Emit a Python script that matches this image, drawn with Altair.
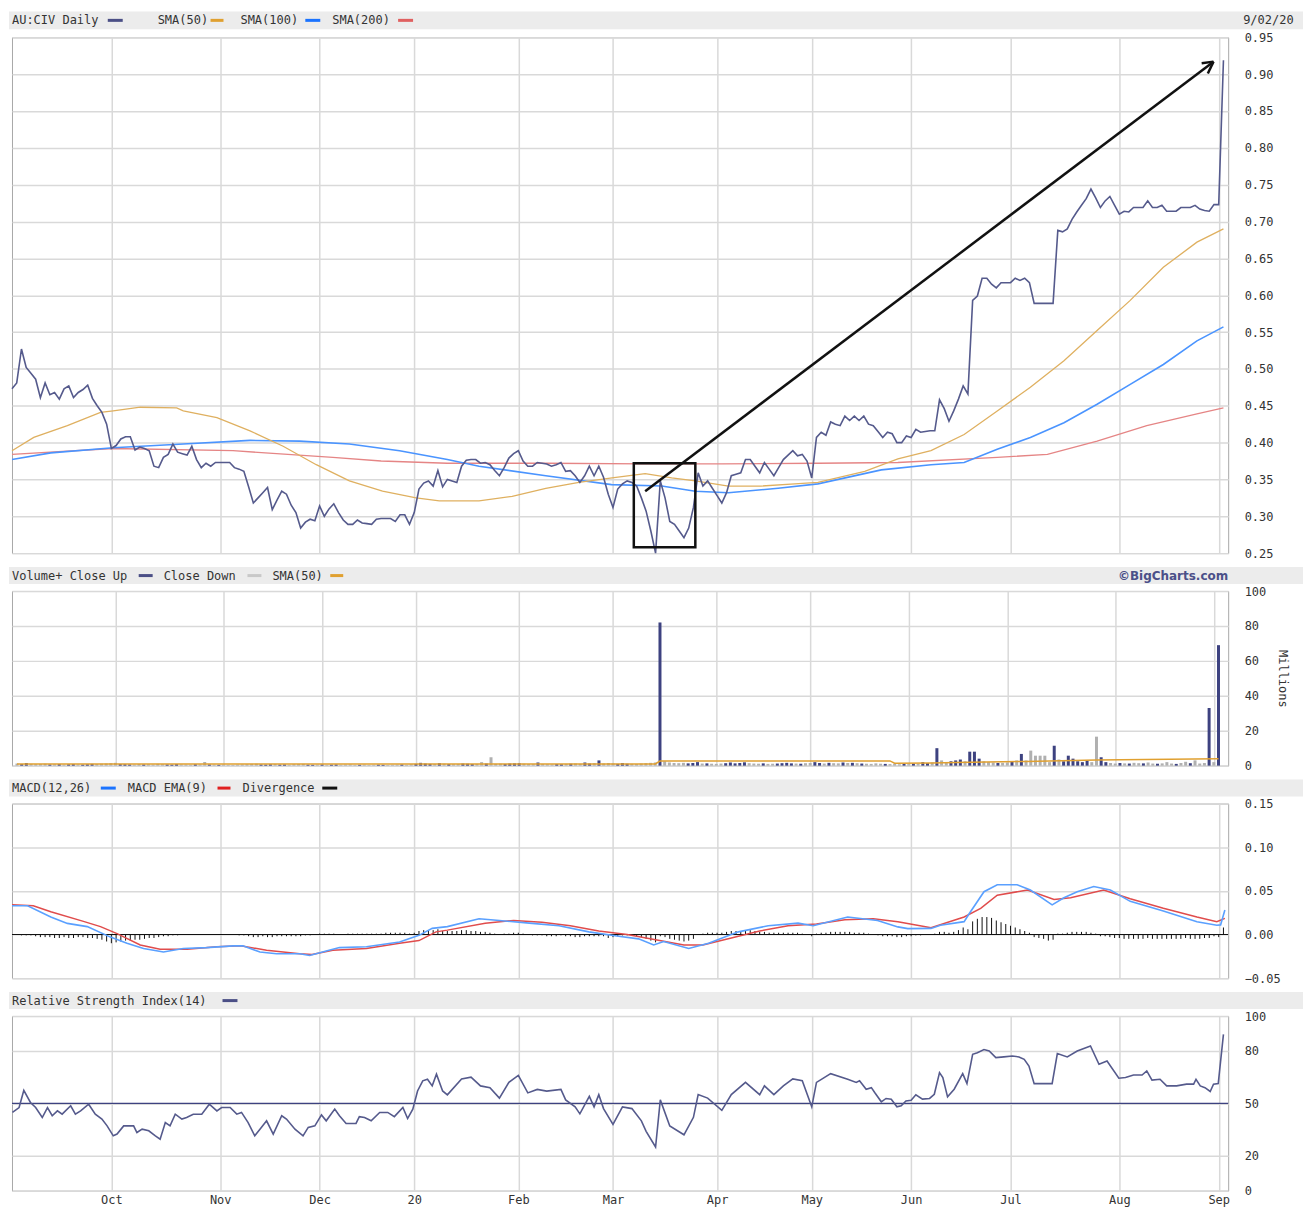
import altair as alt
import pandas as pd

# ---------------- data ----------------
MONTH_IDX = [21, 44, 65, 85, 107, 127, 149, 169, 190, 211, 234, 255]
MONTH_LABELS = ["Oct", "Nov", "Dec", "20", "Feb", "Mar", "Apr", "May", "Jun", "Jul", "Aug", "Sep"]
LAST_DATE = "9/02/20"

# daily closes, trading-day index 0 (2 Sep 2019) .. 256 (2 Sep 2020)
PRICE = [
    0.473, 0.481, 0.527, 0.502, 0.494, 0.486, 0.461, 0.481, 0.465, 0.468,
    0.459, 0.473, 0.477, 0.461, 0.468, 0.472, 0.478, 0.460, 0.450, 0.441,
    0.425, 0.392, 0.396, 0.405, 0.408, 0.408, 0.390, 0.394, 0.392, 0.389,
    0.368, 0.366, 0.380, 0.384, 0.398, 0.387, 0.385, 0.383, 0.395, 0.377,
    0.366, 0.372, 0.368, 0.373, 0.373, 0.373, 0.373, 0.366, 0.364, 0.361,
    0.340, 0.318, 0.325, 0.332, 0.339, 0.309, 0.322, 0.334, 0.330, 0.315,
    0.305, 0.284, 0.292, 0.296, 0.294, 0.314, 0.300, 0.310, 0.317, 0.305,
    0.295, 0.289, 0.289, 0.295, 0.291, 0.290, 0.289, 0.296, 0.297, 0.297,
    0.297, 0.293, 0.302, 0.302, 0.289, 0.305, 0.337, 0.345, 0.348, 0.341,
    0.362, 0.340, 0.350, 0.348, 0.346, 0.368, 0.376, 0.377, 0.377, 0.372,
    0.373, 0.370, 0.362, 0.355, 0.366, 0.379, 0.385, 0.389, 0.375, 0.368,
    0.368, 0.373, 0.372, 0.371, 0.368, 0.370, 0.373, 0.361, 0.362, 0.355,
    0.346, 0.355, 0.368, 0.355, 0.368, 0.353, 0.330, 0.312, 0.337, 0.344,
    0.348, 0.346, 0.341, 0.325, 0.307, 0.280, 0.250, 0.348, 0.325, 0.293,
    0.289, 0.280, 0.271, 0.284, 0.312, 0.359, 0.341, 0.348, 0.338, 0.328,
    0.318, 0.332, 0.355, 0.357, 0.359, 0.377, 0.377, 0.368, 0.359, 0.373,
    0.364, 0.355, 0.366, 0.377, 0.383, 0.389, 0.382, 0.384, 0.375, 0.352,
    0.407, 0.414, 0.410, 0.428, 0.425, 0.423, 0.436, 0.430, 0.436, 0.430,
    0.436, 0.425, 0.423, 0.415, 0.407, 0.414, 0.412, 0.400, 0.400, 0.409,
    0.407, 0.418, 0.414, 0.415, 0.416, 0.416, 0.458, 0.446, 0.429, 0.443,
    0.459, 0.477, 0.466, 0.593, 0.599, 0.623, 0.623, 0.615, 0.610, 0.617,
    0.617, 0.617, 0.623, 0.620, 0.623, 0.617, 0.589, 0.589, 0.589, 0.589,
    0.589, 0.688, 0.686, 0.690, 0.703, 0.713, 0.722, 0.731, 0.744, 0.732,
    0.719, 0.728, 0.734, 0.722, 0.710, 0.714, 0.713, 0.719, 0.719, 0.719,
    0.728, 0.719, 0.719, 0.722, 0.714, 0.714, 0.714, 0.719, 0.719, 0.719,
    0.722, 0.717, 0.715, 0.714, 0.723, 0.723, 0.919,
]

SMA50_IDX = [0, 4.6, 11.7, 18.7, 21.4, 27.1, 34.8, 36.2, 43.3, 50.3,
             57.3, 64.3, 71.3, 78.3, 85.4, 90.3, 98.7, 105.7, 112.8, 119.8,
             126.8, 133.8, 139.4, 144.4, 151.4, 158.3, 165.4, 170.3, 180.2, 187.2,
             194.2, 201.2, 208.2, 215.2, 222.3, 229.3, 236.3, 243.3, 250.4, 256]
SMA50_VAL = [0.389, 0.407, 0.423, 0.441, 0.443, 0.448, 0.447, 0.443, 0.434, 0.416,
             0.395, 0.370, 0.348, 0.334, 0.325, 0.321, 0.321, 0.327, 0.338, 0.346,
             0.352, 0.358, 0.352, 0.348, 0.341, 0.341, 0.344, 0.346, 0.361, 0.378,
             0.389, 0.411, 0.443, 0.475, 0.511, 0.552, 0.593, 0.638, 0.672, 0.690]

SMA100_IDX = [0, 8.2, 21.4, 36.2, 50.3, 60.8, 71.3, 81.9, 92, 98.7,
              112.8, 126.7, 137.3, 144.4, 151.4, 161.9, 170.3, 183.7, 194.2, 201.2,
              208.2, 215.2, 222.3, 229.3, 236.3, 243.3, 250.4, 256]
SMA100_VAL = [0.377, 0.386, 0.393, 0.398, 0.403, 0.402, 0.398, 0.389, 0.377, 0.368,
              0.355, 0.343, 0.341, 0.334, 0.332, 0.338, 0.344, 0.363, 0.370, 0.373,
              0.391, 0.407, 0.427, 0.452, 0.479, 0.506, 0.538, 0.557]

SMA200_IDX = [0, 21.4, 46.7, 67.8, 78, 92, 112.8, 133.8, 150, 170.3, 187.2,
              208.2, 218.8, 229.3, 239.8, 250.4, 256]
SMA200_VAL = [0.384, 0.392, 0.389, 0.380, 0.375, 0.372, 0.372, 0.371, 0.371, 0.372, 0.373,
              0.380, 0.384, 0.402, 0.423, 0.439, 0.447]

# annotation drawn on the price panel (trading-day index, price)
BOX = {"x0": 131.4, "x1": 144.4, "top": 0.372, "bot": 0.258}
ARROW_FROM = [133.8, 0.334]
ARROW_TO = [253.9, 0.917]
ARROW_HEAD_A = [251.4, 0.9147]
ARROW_HEAD_B = [252.7, 0.901]

# volume, millions
VOLUME = [
    1.2, 0.9, 1.5, 1.0, 0.8, 0.9, 1.1, 0.7, 0.8, 0.9,
    0.6, 0.8, 0.9, 0.7, 0.6, 0.8, 1.0, 0.9, 1.1, 1.2,
    1.4, 1.6, 0.9, 0.8, 0.7, 0.6, 0.9, 0.7, 0.8, 0.6,
    1.0, 0.8, 0.7, 0.6, 0.9, 0.7, 0.6, 0.5, 0.8, 0.7,
    2.1, 0.7, 0.6, 0.5, 0.6, 0.5, 0.4, 0.6, 0.7, 0.8,
    1.0, 1.1, 0.7, 0.6, 0.8, 0.9, 0.6, 0.7, 0.5, 0.8,
    0.9, 1.0, 0.6, 0.5, 0.6, 0.7, 0.5, 0.6, 0.7, 0.5,
    0.6, 0.7, 0.4, 0.5, 0.6, 0.4, 0.5, 0.6, 0.5, 0.4,
    0.5, 0.6, 0.7, 0.5, 0.8, 1.0, 1.6, 1.2, 1.0, 0.9,
    1.4, 1.1, 0.9, 0.8, 0.9, 1.2, 1.1, 0.9, 1.0, 2.0,
    1.2, 4.8, 1.0, 1.1, 0.9, 1.2, 1.3, 1.4, 1.1, 0.9,
    0.8, 1.8, 0.9, 0.8, 0.7, 0.9, 0.8, 1.0, 1.1, 1.2,
    1.0, 1.8, 1.2, 1.4, 3.0, 1.2, 1.5, 1.3, 1.0, 1.5,
    1.1, 1.0, 0.9, 1.2, 1.4, 1.6, 1.8, 82.0, 2.5, 1.8,
    1.5, 1.4, 1.6, 1.3, 1.5, 2.0, 1.2, 1.3, 1.1, 1.0,
    1.2, 1.4, 1.8, 1.3, 1.5, 1.9, 1.4, 1.2, 1.1, 1.3,
    1.0, 1.1, 1.2, 1.4, 1.6, 1.3, 1.2, 1.1, 1.4, 1.5,
    2.0, 1.5, 1.2, 1.6, 1.4, 1.3, 1.8, 1.5, 1.6, 1.4,
    1.2, 1.1, 1.0, 1.3, 1.1, 1.0, 0.9, 1.1, 0.8, 1.0,
    0.9, 1.2, 1.1, 2.0, 1.5, 1.8, 10.0, 3.0, 2.0, 2.5,
    3.0, 3.5, 2.5, 8.0, 8.0, 4.0, 2.5, 2.0, 1.8, 1.5,
    1.6, 1.8, 2.5, 3.0, 6.7, 3.0, 8.6, 5.7, 5.7, 5.7,
    2.0, 11.4, 3.5, 2.5, 5.7, 4.0, 2.5, 2.0, 3.0, 2.0,
    16.6, 4.8, 2.0, 1.5, 1.2, 1.5, 1.3, 1.2, 1.6, 1.4,
    1.3, 1.8, 1.2, 1.1, 1.3, 2.0, 1.2, 1.0, 1.5, 2.2,
    1.4, 3.0, 1.2, 1.5, 33.0, 2.0, 69.0,
]
VOL_SMA_IDX = [0, 136, 137, 186, 187, 195, 200, 215, 230, 256]
VOL_SMA_VAL = [1.0, 1.0, 2.6, 2.7, 1.4, 1.5, 1.8, 2.4, 3.2, 4.0]

MACD_IDX = [0, 3.3, 8.2, 11.7, 15.9, 20.8, 24.3, 27.8, 32, 36.2,
            41.1, 46.8, 48.8, 52.4, 55.9, 60.8, 62.9, 66.4, 69.2, 74.9,
            81.9, 86, 88.8, 92, 98.7, 103, 109.3, 115.6, 121.9, 128.2,
            132.4, 135.6, 137.7, 143, 147.2, 153.5, 159.8, 166.1, 169.3, 176.6,
            182.9, 187.2, 189.3, 194.2, 196.2, 201.2, 202.3, 205.4, 208.2, 212.4,
            215.2, 219.8, 222.3, 225.1, 228.6, 232.1, 236.3, 243.3, 250.4, 254.6,
            255.4, 256.3]
MACD_VAL = [0.033, 0.033, 0.020, 0.0127, 0.009, -0.003, -0.010, -0.016, -0.020, -0.016,
            -0.015, -0.013, -0.013, -0.020, -0.022, -0.022, -0.024, -0.019, -0.015, -0.014,
            -0.0085, -0.001, 0.007, 0.009, 0.018, 0.016, 0.013, 0.010, 0.003, -0.002,
            -0.005, -0.012, -0.008, -0.016, -0.010, 0.003, 0.010, 0.013, 0.010, 0.020,
            0.016, 0.0087, 0.0067, 0.007, 0.0106, 0.0147, 0.024, 0.049, 0.057, 0.057,
            0.051, 0.034, 0.042, 0.049, 0.055, 0.051, 0.038, 0.027, 0.0147, 0.0106,
            0.011, 0.028]

SIGNAL_IDX = [0, 4.5, 8.2, 15.1, 18.7, 22.2, 27.1, 31.3, 37, 43.3,
              48.3, 53.8, 60.8, 63.4, 67.8, 74.9, 81.9, 86, 89.6, 92,
              100, 106, 112, 118, 124, 130, 136, 142, 146, 152,
              158, 164, 170, 176, 182, 187.2, 194.2, 201.2, 204.7, 208.2,
              214.6, 220.2, 223.7, 230.7, 236.3, 243.3, 250.4, 254.6, 256.3]
SIGNAL_VAL = [0.034, 0.033, 0.026, 0.015, 0.009, 0.001, -0.012, -0.017, -0.017, -0.014,
              -0.013, -0.018, -0.022, -0.023, -0.018, -0.016, -0.010, -0.007, 0.003, 0.005,
              0.013, 0.016, 0.014, 0.010, 0.004, 0.000, -0.006, -0.012, -0.012, -0.004,
              0.004, 0.010, 0.012, 0.017, 0.018, 0.0147, 0.0077, 0.020, 0.030, 0.045,
              0.051, 0.040, 0.042, 0.051, 0.041, 0.030, 0.020, 0.0147, 0.0185]

DIVERGENCE = [
    0.000, 0.000, -0.001, -0.001, -0.001, -0.002, -0.003, -0.003, -0.003, -0.004,
    -0.004, -0.003, -0.004, -0.004, -0.003, -0.003, -0.004, -0.004, -0.005, -0.006,
    -0.008, -0.010, -0.009, -0.008, -0.007, -0.007, -0.006, -0.006, -0.005, -0.004,
    -0.004, -0.003, -0.002, -0.002, -0.001, -0.001, 0.000, 0.000, 0.000, 0.000,
    0.000, 0.000, 0.000, 0.000, 0.000, 0.000, 0.000, 0.000, -0.001, -0.001,
    -0.002, -0.003, -0.003, -0.002, -0.003, -0.003, -0.002, -0.002, -0.002, -0.002,
    -0.002, -0.002, -0.001, -0.001, 0.000, 0.001, 0.001, 0.001, 0.001, 0.000,
    0.000, 0.001, 0.001, 0.001, 0.001, 0.001, 0.001, 0.001, 0.001, 0.002,
    0.002, 0.002, 0.002, 0.002, 0.001, 0.002, 0.004, 0.005, 0.005, 0.005,
    0.006, 0.004, 0.004, 0.004, 0.004, 0.005, 0.005, 0.004, 0.004, 0.003,
    0.003, 0.002, 0.001, 0.000, 0.001, 0.001, 0.002, 0.002, 0.001, 0.000,
    -0.001, -0.001, -0.001, -0.002, -0.002, -0.002, -0.001, -0.002, -0.002, -0.003,
    -0.003, -0.002, -0.002, -0.002, -0.002, -0.002, -0.004, -0.003, -0.002, -0.001,
    -0.001, -0.001, -0.002, -0.003, -0.005, -0.007, -0.009, -0.002, -0.003, -0.005,
    -0.006, -0.007, -0.008, -0.007, -0.005, 0.000, 0.001, 0.002, 0.002, 0.002,
    0.002, 0.003, 0.004, 0.004, 0.004, 0.005, 0.005, 0.004, 0.003, 0.003,
    0.002, 0.002, 0.002, 0.002, 0.002, 0.002, 0.002, 0.001, 0.000, -0.002,
    0.001, 0.002, 0.002, 0.003, 0.003, 0.003, 0.003, 0.003, 0.002, 0.002,
    0.002, 0.001, 0.000, -0.001, -0.002, -0.002, -0.002, -0.003, -0.003, -0.002,
    -0.002, -0.001, -0.001, 0.000, 0.000, 0.001, 0.003, 0.003, 0.002, 0.003,
    0.005, 0.008, 0.006, 0.015, 0.018, 0.020, 0.020, 0.019, 0.016, 0.014,
    0.012, 0.010, 0.008, 0.006, 0.004, 0.002, -0.003, -0.004, -0.005, -0.007,
    -0.006, 0.001, 0.001, 0.002, 0.003, 0.003, 0.003, 0.003, 0.002, 0.001,
    -0.002, -0.002, -0.003, -0.004, -0.004, -0.005, -0.005, -0.005, -0.005, -0.005,
    -0.004, -0.005, -0.005, -0.005, -0.005, -0.005, -0.005, -0.005, -0.004, -0.005,
    -0.005, -0.005, -0.004, -0.004, -0.002, -0.003, 0.008,
]

RSI_POINTS = [
    [0.1, 44.8], [1.5, 47.6], [2.5, 57.5], [3.9, 50.5], [5, 47.6], [6.4, 41.9], [7.5, 47.6],
    [8.5, 42.9], [9.6, 45.7], [10.6, 43.8], [12.4, 48.6], [13.4, 43.8], [14.5, 45.7],
    [16.2, 49.5], [17.6, 43.8], [19, 41.0], [20.1, 37.1], [21.4, 31.4], [22.2, 32.4],
    [23.6, 37.1], [25.7, 37.1], [26.4, 33.3], [27.5, 35.2], [28.9, 34.3], [30.3, 31.4],
    [31.3, 29.5], [32.4, 39.0], [33.4, 37.1], [34.5, 43.8], [35.9, 41.0], [36.9, 41.9],
    [38.3, 43.8], [40.1, 43.8], [41.7, 49.5], [43.3, 45.7], [44.3, 47.6], [46.1, 47.6],
    [47.5, 43.8], [48.5, 44.8], [49.9, 39.0], [51.3, 31.4], [52.4, 35.2], [53.8, 40.0],
    [55.2, 32.4], [57, 42.9], [58, 41.0], [59.8, 35.2], [61.5, 31.4], [62.6, 36.2],
    [64, 37.1], [65.4, 43.4], [66.4, 40.0], [68.2, 46.7], [69.2, 42.9], [70.6, 38.5],
    [72.7, 38.5], [73.4, 42.4], [74.5, 41.9], [75.9, 40.0], [77.7, 44.8], [79.4, 44.8],
    [80.8, 42.4], [82.6, 47.6], [83.6, 41.3], [84.7, 46.7], [85.7, 57.1], [86.8, 62.9],
    [87.8, 63.8], [88.8, 60.0], [89.7, 66.7], [91, 57.1], [92, 54.9], [95, 64.0],
    [97, 65.0], [99, 60.0], [101, 59.0], [103, 53.0], [105, 62.0], [107, 66.0],
    [109, 56.0], [111, 58.0], [113, 57.0], [116, 58.0], [117, 52.0], [119, 48.0],
    [120, 44.0], [122, 54.0], [123, 48.0], [124, 55.0], [125, 47.0], [127, 38.0],
    [129, 48.0], [131, 47.0], [133, 40.0], [134, 34.0], [136, 25.0], [137, 52.0],
    [139, 37.0], [142, 32.0], [144, 42.0], [145, 55.0], [147, 53.0], [150, 46.0],
    [152, 55.0], [155, 62.0], [158, 55.0], [159, 60.0], [161, 55.0], [163, 60.0],
    [165, 64.0], [167, 63.0], [169, 48.0], [170, 62.0], [173, 67.0], [176.6, 63.8],
    [178.4, 62.0], [179.1, 62.9], [180.5, 58.1], [181.6, 59.0], [182.3, 56.2],
    [183.7, 50.9], [184.7, 52.8], [185.8, 52.4], [187, 48.0], [187.9, 48.6], [188.9, 51.4],
    [190, 51.8], [191, 54.9], [192.4, 52.4], [193.9, 52.8], [194.9, 55.2], [196, 67.6],
    [196.7, 64.8], [197.7, 53.7], [199.1, 58.1], [200.9, 67.0], [201.8, 61.3],
    [203, 78.1], [204, 79.0], [205.4, 80.8], [206.5, 80.0], [207.9, 76.2], [209.6, 76.6],
    [211.4, 77.1], [212.8, 76.6], [213.9, 75.2], [214.9, 71.4], [216, 61.3], [219.8, 61.3],
    [220.9, 78.5], [223, 76.6], [225.1, 80.0], [227.9, 82.9], [229.7, 72.4], [231.4, 74.3],
    [233.9, 64.4], [235.3, 64.8], [237, 66.2], [238.8, 66.2], [239.8, 68.6], [240.9, 63.3],
    [242.6, 63.8], [244, 60.0], [246.1, 60.0], [248.2, 61.0], [249.7, 61.0], [250.2, 63.8],
    [251.1, 60.0], [252.1, 59.0], [253.2, 56.8], [253.9, 61.0], [254.9, 61.3], [256, 89.5],
]

# ---------------- styling ----------------
W = 1219
H_MAIN = 517
H_SUB = 175
MONO = "DejaVu Sans Mono"
TXT = "#333333"
GRID = "#d9d9d9"
NAVY = "#4b4f86"
PRICE_C = "#555a8c"
ORANGE = "#dfb060"
ORANGE_KEY = "#e0a030"
BLUE = "#4a94ff"
BLUE_KEY = "#1a73ff"
RED = "#e58585"
RED_KEY = "#e06060"
MACD_BLUE = "#5aa0ff"
MACD_RED = "#e04c4c"
STRIP = "#ececec"

XSCALE = alt.Scale(domain=[0, 257], nice=False, zero=False)
LABEL_EXPR = " : ".join(
    f"datum.value == {i} ? '{l}'" for i, l in zip(MONTH_IDX, MONTH_LABELS)
) + " : ''"


def x_axis(show):
    return alt.Axis(values=MONTH_IDX, labelExpr=LABEL_EXPR, labels=show, grid=True,
                    ticks=False, domain=False, title=None, labelPadding=4,
                    labelFont=MONO, labelFontSize=12, labelColor=TXT)


def xq(field, show=False):
    return alt.X(f"{field}:Q", scale=XSCALE, axis=x_axis(show))


ONE = alt.Data(values=[{"k": 1}])


def header(ytop, ybot, items, right=None):
    ymid = (ytop + ybot) / 2
    layers = [alt.Chart(ONE).mark_rect(color=STRIP).encode(
        x=alt.value(-3), x2=alt.value(W + 75), y=alt.value(ytop), y2=alt.value(ybot))]
    for label, tx, d0, d1, col in items:
        layers.append(alt.Chart(ONE).mark_text(
            align="left", baseline="middle", font=MONO, fontSize=12, color=TXT
        ).encode(x=alt.value(tx), y=alt.value(ymid), text=alt.value(label)))
        layers.append(alt.Chart(ONE).mark_rule(color=col, strokeWidth=3).encode(
            x=alt.value(d0), x2=alt.value(d1), y=alt.value(ymid)))
    if right is not None:
        text, rx, align, font, weight, col = right
        layers.append(alt.Chart(ONE).mark_text(
            align=align, baseline="middle", font=font, fontSize=12, fontWeight=weight, color=col
        ).encode(x=alt.value(rx), y=alt.value(ymid), text=alt.value(text)))
    return layers


# ---------------- price panel ----------------
days = list(range(len(PRICE)))
price_df = pd.DataFrame({"day": days, "close": PRICE})
sma50_df = pd.DataFrame({"day": SMA50_IDX, "v": SMA50_VAL})
sma100_df = pd.DataFrame({"day": SMA100_IDX, "v": SMA100_VAL})
sma200_df = pd.DataFrame({"day": SMA200_IDX, "v": SMA200_VAL})

P_SCALE = alt.Scale(domain=[0.25, 0.95], nice=False, zero=False)
P_AXIS = alt.Axis(orient="right", values=[0.25, 0.30, 0.35, 0.40, 0.45, 0.50, 0.55, 0.60,
                                          0.65, 0.70, 0.75, 0.80, 0.85, 0.90, 0.95],
                  format=".2f", grid=True, title=None, ticks=False, domain=False, labelPadding=16)


def py(field):
    return alt.Y(f"{field}:Q", scale=P_SCALE, axis=P_AXIS)


box_df = pd.DataFrame([BOX])
arrow_df = pd.DataFrame({
    "x": [ARROW_FROM[0], ARROW_TO[0], ARROW_TO[0]],
    "y": [ARROW_FROM[1], ARROW_TO[1], ARROW_TO[1]],
    "x2": [ARROW_TO[0], ARROW_HEAD_A[0], ARROW_HEAD_B[0]],
    "y2": [ARROW_TO[1], ARROW_HEAD_A[1], ARROW_HEAD_B[1]],
})

price_layers = [
    alt.Chart(sma200_df).mark_line(color=RED, strokeWidth=1.3).encode(x=xq("day"), y=py("v")),
    alt.Chart(sma100_df).mark_line(color=BLUE, strokeWidth=1.6).encode(x=xq("day"), y=py("v")),
    alt.Chart(sma50_df).mark_line(color=ORANGE, strokeWidth=1.3).encode(x=xq("day"), y=py("v")),
    alt.Chart(price_df).mark_line(color=PRICE_C, strokeWidth=1.6).encode(x=xq("day"), y=py("close")),
    alt.Chart(box_df).mark_rect(fillOpacity=0, stroke="#111111", strokeWidth=2.5).encode(
        x=xq("x0"), x2="x1:Q", y=py("top"), y2="bot:Q"),
    alt.Chart(arrow_df).mark_rule(color="#111111", strokeWidth=2.5).encode(
        x=xq("x"), x2="x2:Q", y=py("y"), y2="y2:Q"),
]
price_layers += header(-26, -8, [
    ("AU:CIV Daily", 0, 96, 111, NAVY),
    ("SMA(50)", 146, 199, 212, ORANGE_KEY),
    ("SMA(100)", 229, 294, 309, BLUE_KEY),
    ("SMA(200)", 321, 387, 402, RED_KEY),
], right=(LAST_DATE, W + 15, "left", MONO, "normal", TXT))
price_chart = alt.layer(*price_layers).properties(width=W, height=H_MAIN)

# ---------------- volume panel ----------------
direction = ["down"] + ["up" if PRICE[i] > PRICE[i - 1] else "down" for i in range(1, len(PRICE))]
vol_df = pd.DataFrame({"day": days, "vol": VOLUME, "dir": direction})
vsma_df = pd.DataFrame({"day": VOL_SMA_IDX, "v": VOL_SMA_VAL})
V_SCALE = alt.Scale(domain=[0, 100], nice=False)
V_AXIS = alt.Axis(orient="right", values=[0, 20, 40, 60, 80, 100], grid=True, ticks=False,
                  domain=False, labelPadding=16, title="Millions", titleFont=MONO,
                  titleFontSize=12, titleFontWeight="normal", titleColor=TXT, titlePadding=10)

vol_layers = [
    alt.Chart(vol_df).mark_bar(size=3).encode(
        x=xq("day"), y=alt.Y("vol:Q", scale=V_SCALE, axis=V_AXIS),
        color=alt.Color("dir:N", scale=alt.Scale(domain=["up", "down"], range=["#3d4280", "#b0b0b0"]),
                        legend=None)),
    alt.Chart(vsma_df).mark_line(color=ORANGE_KEY, strokeWidth=1.5).encode(
        x=xq("day"), y=alt.Y("v:Q", scale=V_SCALE, axis=V_AXIS)),
]
vol_layers += header(-24, -7, [
    ("Volume+ Close Up", 0, 127, 141, NAVY),
    ("Close Down", 152, 236, 250, "#c8c8c8"),
    ("SMA(50)", 261, 319, 332, ORANGE_KEY),
], right=("\u00a9BigCharts.com", W, "right", "DejaVu Sans", "bold", "#4b5089"))
vol_chart = alt.layer(*vol_layers).properties(width=W, height=H_SUB)

# ---------------- MACD panel ----------------
macd_df = pd.DataFrame({"day": MACD_IDX, "v": MACD_VAL})
sig_df = pd.DataFrame({"day": SIGNAL_IDX, "v": SIGNAL_VAL})
div_df = pd.DataFrame({"day": days, "v": DIVERGENCE})
M_SCALE = alt.Scale(domain=[-0.05, 0.15], nice=False, zero=False)
M_AXIS = alt.Axis(orient="right", values=[-0.05, 0.0, 0.05, 0.10, 0.15], format=".2f",
                  grid=True, ticks=False, domain=False, labelPadding=16, title=None)


def my(field):
    return alt.Y(f"{field}:Q", scale=M_SCALE, axis=M_AXIS)


macd_layers = [
    alt.Chart(div_df).mark_rule(color="#111111", strokeWidth=1).encode(
        x=xq("day"), y=my("v"), y2=alt.datum(0)),
    alt.Chart(ONE).mark_rule(color="#111111", strokeWidth=1.2).encode(y=alt.datum(0)),
    alt.Chart(sig_df).mark_line(color=MACD_RED, strokeWidth=1.5).encode(x=xq("day"), y=my("v")),
    alt.Chart(macd_df).mark_line(color=MACD_BLUE, strokeWidth=1.6).encode(x=xq("day"), y=my("v")),
]
macd_layers += header(-24, -7, [
    ("MACD(12,26)", 0, 89, 104, BLUE_KEY),
    ("MACD EMA(9)", 116, 206, 219, "#e02020"),
    ("Divergence", 231, 311, 326, "#111111"),
])
macd_chart = alt.layer(*macd_layers).properties(width=W, height=H_SUB)

# ---------------- RSI panel ----------------
rsi_df = pd.DataFrame(RSI_POINTS, columns=["day", "v"])
R_SCALE = alt.Scale(domain=[0, 100], nice=False)
R_AXIS = alt.Axis(orient="right", values=[0, 20, 50, 80, 100], grid=True, ticks=False,
                  domain=False, labelPadding=16, title=None)
rsi_layers = [
    alt.Chart(ONE).mark_rule(color="#3d4280", strokeWidth=1.2).encode(
        y=alt.Y("y:Q", scale=R_SCALE, axis=R_AXIS)).transform_calculate(y="50"),
    alt.Chart(rsi_df).mark_line(color=PRICE_C, strokeWidth=1.6).encode(
        x=xq("day", True), y=alt.Y("v:Q", scale=R_SCALE, axis=R_AXIS)),
]
rsi_layers += header(-24, -7, [
    ("Relative Strength Index(14)", 0, 211, 226, NAVY),
])
rsi_chart = alt.layer(*rsi_layers).properties(width=W, height=H_SUB)

chart = alt.vconcat(price_chart, vol_chart, macd_chart, rsi_chart, spacing=38, bounds="flush").configure_view(
    stroke="#a8a8a8", strokeWidth=1
).configure_axis(
    labelFont=MONO, labelFontSize=12, labelColor=TXT, gridColor=GRID, gridWidth=1.5
).properties(
    padding={"left": 0, "top": 1, "right": 2, "bottom": 0}, background="white"
)

chart.save("out.html", embed_options={"renderer": "svg", "actions": False})
